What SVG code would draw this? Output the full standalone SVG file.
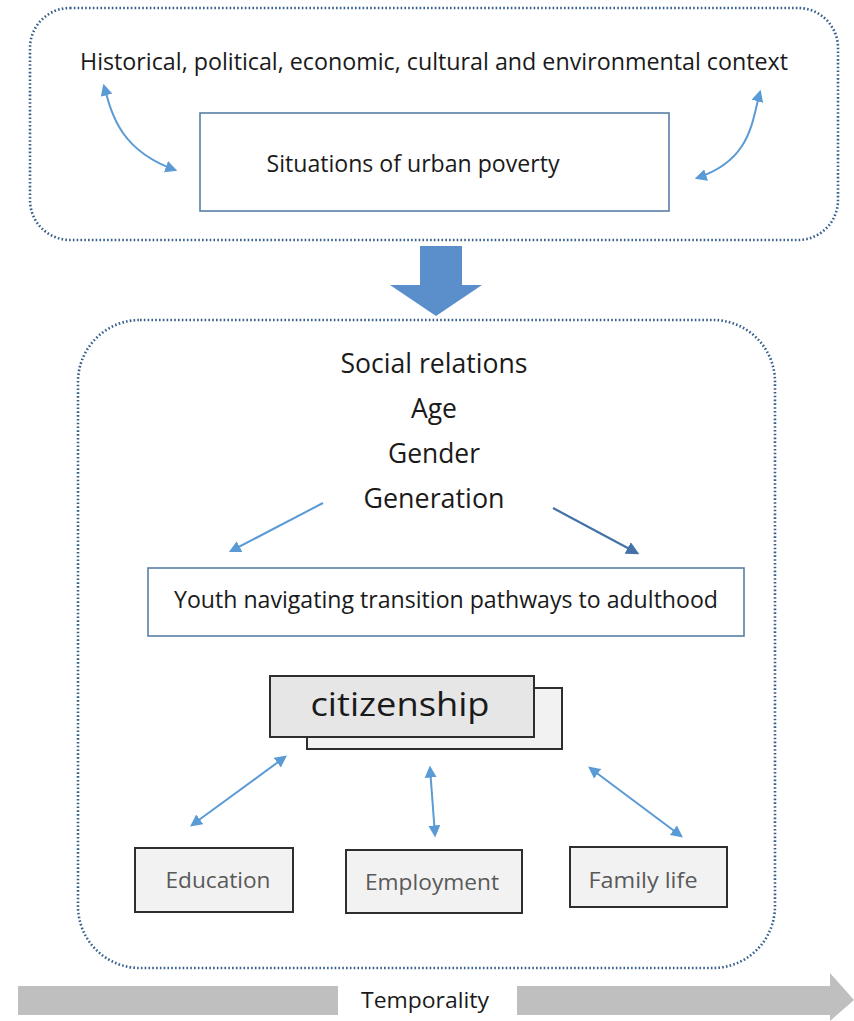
<svg xmlns="http://www.w3.org/2000/svg" width="854" height="1021" viewBox="0 0 854 1021">
<defs>
<style>
.dot{fill:none;stroke:#365f8c;stroke-width:2.6;stroke-dasharray:1.6 2.2}
.t{font-family:"Open Sans","Noto Sans",sans-serif;fill:#1a1a1a;text-anchor:middle}
.bx{fill:#fff;stroke:#5a7ea6;stroke-width:1.6}
.gb{fill:#f2f2f2;stroke:#2e2e2e;stroke-width:2}
.gt{font-family:"Open Sans","Noto Sans",sans-serif;fill:#595959;text-anchor:middle;font-size:22px}
.ln{fill:none;stroke:#5b9bd5;stroke-width:2}
</style>
<marker id="ah" viewBox="0 0 10 10" refX="8" refY="5" markerWidth="6" markerHeight="6" orient="auto-start-reverse"><path d="M0,0 L10,5 L0,10 z" fill="#5b9bd5"/></marker>
<marker id="ahd" viewBox="0 0 10 10" refX="8" refY="5" markerWidth="6" markerHeight="6" orient="auto"><path d="M0,0 L10,5 L0,10 z" fill="#4472a8"/></marker>
</defs>
<rect width="854" height="1021" fill="#fff"/>

<g id="context">
<rect class="dot" x="30" y="8" width="808" height="232" rx="40"/>
<text class="t" x="434" y="70" font-size="24" textLength="708" lengthAdjust="spacingAndGlyphs">Historical, political, economic, cultural and environmental context</text>
</g>
<g id="poverty">
<rect class="bx" x="200" y="113" width="469" height="98"/>
<text class="t" x="413" y="172" font-size="24" textLength="293" lengthAdjust="spacingAndGlyphs">Situations of urban poverty</text>
</g>
<g id="social">
<rect class="dot" x="78" y="320" width="697" height="648" rx="62"/>
<text class="t" x="434" y="373" font-size="28" textLength="187" lengthAdjust="spacingAndGlyphs">Social relations</text>
<text class="t" x="434" y="418" font-size="28" textLength="46" lengthAdjust="spacingAndGlyphs">Age</text>
<text class="t" x="434" y="463" font-size="28" textLength="92" lengthAdjust="spacingAndGlyphs">Gender</text>
<text class="t" x="434" y="508" font-size="28" textLength="141" lengthAdjust="spacingAndGlyphs">Generation</text>
</g>
<g id="youth">
<rect class="bx" x="148" y="568" width="596" height="68"/>
<text class="t" x="446" y="608" font-size="23" textLength="544" lengthAdjust="spacingAndGlyphs">Youth navigating transition pathways to adulthood</text>
</g>
<g id="citizenship">
<rect x="307" y="688" width="255" height="61" fill="#f2f2f2" stroke="#2e2e2e" stroke-width="2"/>
<rect x="270" y="676" width="264" height="61" fill="#e6e6e6" stroke="#2e2e2e" stroke-width="2"/>
<text class="t" x="400" y="716" font-size="33" textLength="179" lengthAdjust="spacingAndGlyphs">citizenship</text>
</g>
<g id="education">
<rect class="gb" x="135" y="848" width="158" height="64"/>
<text class="gt" x="218" y="888" textLength="105" lengthAdjust="spacingAndGlyphs">Education</text>
</g>
<g id="employment">
<rect class="gb" x="346" y="850" width="176" height="63"/>
<text class="gt" x="432" y="890" textLength="134" lengthAdjust="spacingAndGlyphs">Employment</text>
</g>
<g id="family">
<rect class="gb" x="570" y="847" width="157" height="60"/>
<text class="gt" x="643" y="888" textLength="109" lengthAdjust="spacingAndGlyphs">Family life</text>
</g>
<g id="temporality">
<rect x="18" y="986" width="320" height="29" fill="#bfbfbf"/>
<path d="M517,986 H830 V973 L854,1000 L830,1021 V1015 H517 z" fill="#bfbfbf"/>
<text class="t" x="425" y="1008" font-size="21" textLength="128" lengthAdjust="spacingAndGlyphs">Temporality</text>
</g>
<g id="connectors">
<path d="M420,246 H462 V285 H482 L436,316 L390,285 H420 z" fill="#5b8fcc"/>
<path class="ln" d="M104,86 C112,115 120,150 175,170" marker-start="url(#ah)" marker-end="url(#ah)"/>
<path class="ln" d="M760,92 C752,120 752,160 697,178" marker-start="url(#ah)" marker-end="url(#ah)"/>
<line class="ln" x1="323" y1="503" x2="231" y2="551" marker-end="url(#ah)"/>
<line x1="553" y1="508" x2="637" y2="553" stroke="#4472a8" stroke-width="2.2" marker-end="url(#ahd)"/>
<line class="ln" x1="285" y1="757" x2="192" y2="825" marker-start="url(#ah)" marker-end="url(#ah)"/>
<line class="ln" x1="430" y1="768" x2="435" y2="835" marker-start="url(#ah)" marker-end="url(#ah)"/>
<line class="ln" x1="590" y1="768" x2="681" y2="836" marker-start="url(#ah)" marker-end="url(#ah)"/>
</g>
</svg>
